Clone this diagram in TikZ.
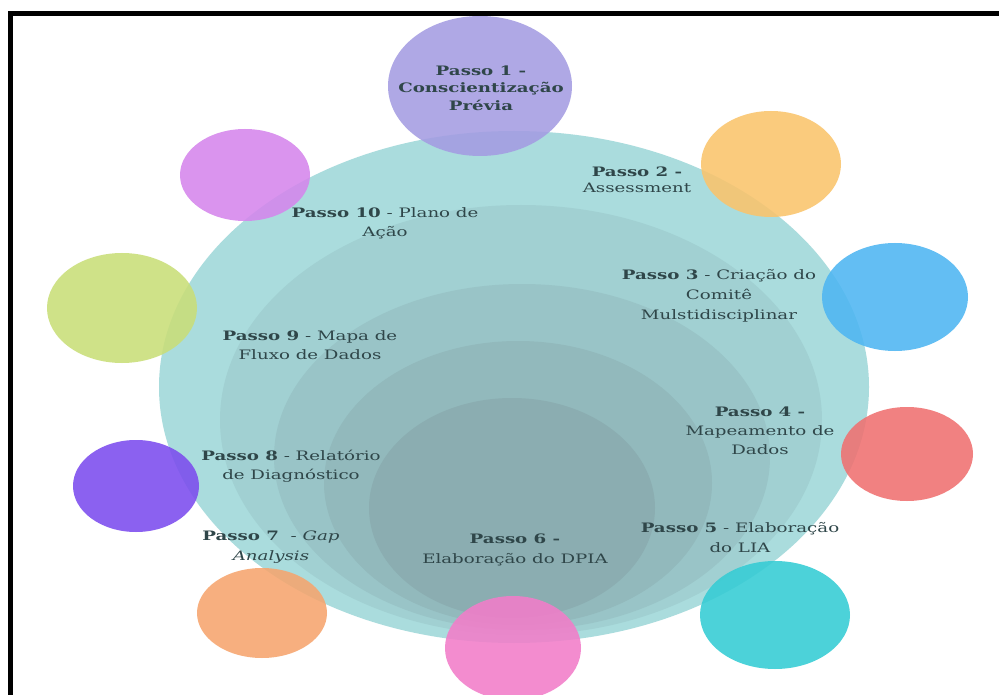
\documentclass[tikz,border=0pt]{standalone}
\usepackage{fontspec}
\setmainfont{DejaVu Serif}[FakeStretch=1.4]
\usetikzlibrary{shapes.geometric}
\definecolor{txt}{HTML}{2F4649}
\definecolor{ringA}{HTML}{AADCDD}
\definecolor{ringB}{HTML}{A1D0D2}
\definecolor{ringC}{HTML}{99C4C7}
\definecolor{ringD}{HTML}{92B9BC}
\definecolor{ringE}{HTML}{8BADB1}
\definecolor{cOne}{HTML}{A49CE2}
\definecolor{cTwo}{HTML}{FAC46C}
\definecolor{cThree}{HTML}{4EB6F2}
\definecolor{cFour}{HTML}{F07070}
\definecolor{cFive}{HTML}{34CCD4}
\definecolor{cSix}{HTML}{F27DC9}
\definecolor{cSeven}{HTML}{F6A56E}
\definecolor{cEight}{HTML}{7C4CEE}
\definecolor{cNine}{HTML}{C9DE78}
\definecolor{cTen}{HTML}{D586EC}
\tikzset{
  sat/.style={fill opacity=0.88},
  lbl/.style={text=txt, font=\fontsize{13}{20}\selectfont, align=center, inner sep=0pt},
}
\begin{document}
\begin{tikzpicture}[x=1pt,y=-1pt]
\useasboundingbox (0,0) rectangle (999,695);
\fill[white] (0,0) rectangle (999,695);
\begin{scope}
\clip (0,0) rectangle (999,695);
% nested rings
\fill[ringA] (514,387) ellipse [x radius=355, y radius=256];
\fill[ringB] (521,420) ellipse [x radius=301, y radius=215];
\fill[ringC] (522,457) ellipse [x radius=248, y radius=173];
\fill[ringD] (518,483) ellipse [x radius=194, y radius=142];
\fill[ringE] (512,508) ellipse [x radius=143, y radius=110];
% satellites
\fill[cOne,sat]   (480,86)  ellipse [x radius=92, y radius=70];
\fill[cTwo,sat]   (771,164) ellipse [x radius=70, y radius=53];
\fill[cThree,sat] (895,297) ellipse [x radius=73, y radius=54];
\fill[cFour,sat]  (907,454) ellipse [x radius=66, y radius=47];
\fill[cFive,sat]  (775,615) ellipse [x radius=75, y radius=54];
\fill[cSix,sat]   (513,648) ellipse [x radius=68, y radius=52];
\fill[cSeven,sat] (262,613) ellipse [x radius=65, y radius=45];
\fill[cEight,sat] (136,486) ellipse [x radius=63, y radius=46];
\fill[cNine,sat]  (122,308) ellipse [x radius=75, y radius=55];
\fill[cTen,sat]   (245,175) ellipse [x radius=65, y radius=46];
% frame
\draw[line width=5pt] (10,700) -- (10,13.5) -- (1005,13.5);
\end{scope}
% labels
\node[lbl, font=\fontsize{13}{17.5}\selectfont\bfseries] (p1) at (481,88) {Passo 1 -\\Conscientização\\Prévia};
\node[lbl, font=\fontsize{13}{16.5}\selectfont] (p2) at (637,180) {\textbf{Passo 2 -}\\Assessment};
\node[lbl] (p3) at (719,296) {\textbf{Passo 3} - Criação do\\Comitê\\Mulstidisciplinar};
\node[lbl, font=\fontsize{13}{19}\selectfont] (p4) at (760,431) {\textbf{Passo 4 -}\\Mapeamento de\\Dados};
\node[lbl] (p5) at (740,538) {\textbf{Passo 5} - Elaboração\\do LIA};
\node[lbl] (p6) at (515,550) {\textbf{Passo 6 -}\\Elaboração do DPIA};
\node[lbl] (p7) at (271,547) {\textbf{Passo 7}\ \ - \textit{Gap}\\\textit{Analysis}};
\node[lbl, font=\fontsize{13}{19}\selectfont] (p8) at (291,466) {\textbf{Passo 8} - Relatório\\de Diagnóstico};
\node[lbl, font=\fontsize{13}{19}\selectfont] (p9) at (310,345) {\textbf{Passo 9} - Mapa de\\Fluxo de Dados};
\node[lbl, font=\fontsize{13}{19}\selectfont] (p10) at (385,223) {\textbf{Passo 10} - Plano de\\Ação};
\end{tikzpicture}
\end{document}
